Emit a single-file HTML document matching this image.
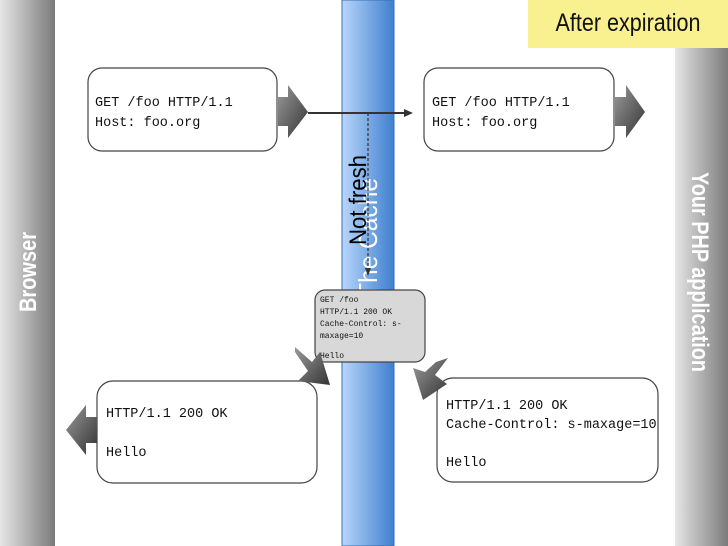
<!DOCTYPE html>
<html><head><meta charset="utf-8"><style>
body{margin:0;width:728px;height:546px;overflow:hidden;background:#fff}
</style></head><body>
<svg width="728" height="546" xmlns="http://www.w3.org/2000/svg" style="display:block">
<defs>
<linearGradient id="gl" x1="0" x2="1"><stop offset="0" stop-color="#e6e6e6"/><stop offset="1" stop-color="#7a7a7a"/></linearGradient>
<linearGradient id="bl" x1="0" x2="1"><stop offset="0" stop-color="#b8d6fb"/><stop offset="1" stop-color="#3f7fd0"/></linearGradient>
<linearGradient id="ar" x1="0" y1="0" x2="1" y2="1"><stop offset="0" stop-color="#9a9a9a"/><stop offset="1" stop-color="#333"/></linearGradient>
<clipPath id="cb"><rect x="342" y="0" width="52" height="546"/></clipPath>
</defs>
<rect x="0" y="0" width="55" height="546" fill="url(#gl)"/>
<rect x="675" y="48" width="53" height="498" fill="url(#gl)"/>
<rect x="342" y="0" width="52" height="546" fill="url(#bl)" stroke="#3a6fb0" stroke-width="1"/>
<rect x="528" y="0" width="200" height="48" fill="#f9f08f"/>
<text x="628" y="31" font-family="Liberation Sans, sans-serif" font-size="25" text-anchor="middle" fill="#111" textLength="145" lengthAdjust="spacingAndGlyphs">After expiration</text>
<text transform="translate(36,272) rotate(-90)" font-family="Liberation Sans, sans-serif" font-weight="bold" font-size="24" fill="#fff" text-anchor="middle" textLength="80" lengthAdjust="spacingAndGlyphs">Browser</text>
<text transform="translate(692,272) rotate(90)" font-family="Liberation Sans, sans-serif" font-weight="bold" font-size="24" fill="#fff" text-anchor="middle" textLength="200" lengthAdjust="spacingAndGlyphs">Your PHP application</text>
<g clip-path="url(#cb)"><text transform="translate(377,238) rotate(-90)" font-family="Liberation Sans, sans-serif" font-size="26" fill="#fff" text-anchor="middle" textLength="120" lengthAdjust="spacingAndGlyphs">The Cache</text></g>
<text transform="translate(366,200) rotate(-90)" font-family="Liberation Sans, sans-serif" font-size="24" fill="#000" text-anchor="middle" textLength="90" lengthAdjust="spacingAndGlyphs">Not fresh</text>
<line x1="308" y1="113" x2="406" y2="113" stroke="#333" stroke-width="2"/>
<polygon points="404,109 413,113 404,117" fill="#333"/>
<line x1="368" y1="113" x2="368" y2="270" stroke="#333" stroke-width="1.2" stroke-dasharray="3,2"/>
<polygon points="365,268 368,276 371,268" fill="#333"/>
<g font-family="Liberation Mono, monospace" fill="#111">
<rect x="88" y="68" width="189" height="83" rx="14" fill="#fff" stroke="#444" stroke-width="1.2"/>
<text x="95" y="106" font-size="13.5">GET /foo HTTP/1.1</text>
<text x="95" y="126" font-size="13.5">Host: foo.org</text>
<rect x="424" y="68" width="190" height="83" rx="14" fill="#fff" stroke="#444" stroke-width="1.2"/>
<text x="432" y="106" font-size="13.5">GET /foo HTTP/1.1</text>
<text x="432" y="126" font-size="13.5">Host: foo.org</text>
<rect x="315" y="290" width="110" height="72" rx="10" fill="#d8d8d8" stroke="#444" stroke-width="1.2"/>
<g font-size="8"><text x="320" y="302">GET /foo</text><text x="320" y="314">HTTP/1.1 200 OK</text><text x="320" y="326">Cache-Control: s-</text><text x="320" y="338">maxage=10</text><text x="320" y="358">Hello</text></g>
<rect x="97" y="381" width="220" height="102" rx="16" fill="#fff" stroke="#444" stroke-width="1.2"/>
<text x="106" y="417" font-size="13.5">HTTP/1.1 200 OK</text>
<text x="106" y="456" font-size="13.5">Hello</text>
<rect x="437" y="378" width="221" height="104" rx="16" fill="#fff" stroke="#444" stroke-width="1.2"/>
<text x="446" y="409" font-size="13.5">HTTP/1.1 200 OK</text>
<text x="446" y="428" font-size="13.5">Cache-Control: s-maxage=10</text>
<text x="446" y="466" font-size="13.5">Hello</text>
</g>
<polygon points="278,97 288,97 288,85 308,112 288,138 288,126 278,126" fill="url(#ar)"/>
<polygon points="615,97 626,97 626,85 645,112 626,138 626,126 615,126" fill="url(#ar)"/>
<polygon points="97,417 86,417 86,405 66,430 86,455 86,443 97,443" fill="url(#ar)"/>
<polygon points="295,347 312,362 320,352 330,385 298,381 308,371 295,352" fill="url(#ar)"/>
<polygon points="448,358 435,375 447,384 423,400 413,368 425,372 436,362" fill="url(#ar)"/>
</svg>
</body></html>
